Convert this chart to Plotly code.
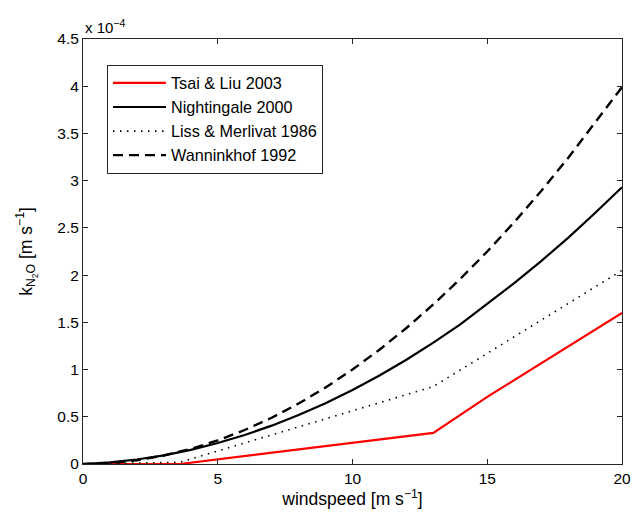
import plotly.graph_objects as go

# windspeed [m s^-1]
wind = [0, 1, 2, 3, 4, 5, 6, 7, 8, 9, 10, 11, 12, 13, 14, 15, 16, 17, 18, 19, 20]
# k values in units of 1e-4 m s^-1
nightingale = [0, 0.017, 0.048, 0.092, 0.150, 0.222, 0.307, 0.406, 0.518, 0.644, 0.784,
               0.937, 1.104, 1.285, 1.479, 1.700, 1.915, 2.148, 2.395, 2.657, 2.93]
wanninkhof = [0, 0.010, 0.040, 0.090, 0.160, 0.250, 0.360, 0.490, 0.640, 0.810, 1.000,
              1.210, 1.440, 1.690, 1.960, 2.250, 2.560, 2.890, 3.240, 3.610, 3.99]
wind_lm = [0, 3.6, 13, 20]
liss = [0, 0.018, 0.82, 2.05]
wind_tl = [0, 3.6, 13, 15, 20]
tsai = [0, 0.0, 0.33, 0.71, 1.60]

x_ticks = [0, 5, 10, 15, 20]
y_ticks = [0, 0.5, 1, 1.5, 2, 2.5, 3, 3.5, 4, 4.5]
y_ticklabels = ["0", "0.5", "1", "1.5", "2", "2.5", "3", "3.5", "4", "4.5"]

FONT = "Liberation Sans, Arial, Helvetica, sans-serif"
AX = "#262626"

fig = go.Figure()
fig.add_trace(go.Scatter(x=wind_tl, y=tsai, mode="lines", name="Tsai &amp; Liu 2003",
                         line=dict(color="#ff0000", width=2.2)))
fig.add_trace(go.Scatter(x=wind, y=nightingale, mode="lines", name="Nightingale 2000",
                         line=dict(color="black", width=2.2)))
fig.add_trace(go.Scatter(x=wind_lm, y=liss, mode="lines", name="Liss &amp; Merlivat 1986",
                         line=dict(color="black", width=1.6, dash="1.5px,5.5px")))
fig.add_trace(go.Scatter(x=wind, y=wanninkhof, mode="lines", name="Wanninkhof 1992",
                         line=dict(color="black", width=2.4, dash="10px,6px")))

axis_common = dict(
    showgrid=False, zeroline=False, showline=True, linecolor=AX, linewidth=1,
    mirror="allticks", ticks="inside", ticklen=5, tickcolor=AX, tickwidth=1,
    tickfont=dict(family=FONT, size=15.5, color="black"), automargin=False,
)

fig.update_layout(
    width=633, height=513,
    margin=dict(l=83, r=11, t=39, b=49),
    paper_bgcolor="white", plot_bgcolor="white",
    font=dict(family=FONT, color="black"),
    xaxis=dict(range=[0, 20], tickvals=x_ticks, ticktext=[str(v) for v in x_ticks],
               title=dict(text="windspeed [m s<sup>−1</sup>]", font=dict(family=FONT, size=17.5), standoff=5),
               **axis_common),
    yaxis=dict(range=[0, 4.5], tickvals=y_ticks, ticktext=y_ticklabels,
               title=dict(text="k<sub>N<sub>2</sub>O</sub> [m s<sup>−1</sup>]", font=dict(family=FONT, size=17.5), standoff=20),
               **axis_common),
    showlegend=True,
    legend=dict(x=0.0445, y=0.939, xanchor="left", yanchor="top",
                bgcolor="white", bordercolor=AX, borderwidth=1,
                font=dict(family=FONT, size=16.2, color="black"),
                tracegroupgap=0, itemwidth=53),
    annotations=[dict(text="x 10<sup>−4</sup>",
                      x=0, y=1, xref="paper", yref="paper",
                      xanchor="left", yanchor="bottom", yshift=1, showarrow=False,
                      font=dict(family=FONT, size=15, color="black"))],
)

fig.write_html("out.html")
